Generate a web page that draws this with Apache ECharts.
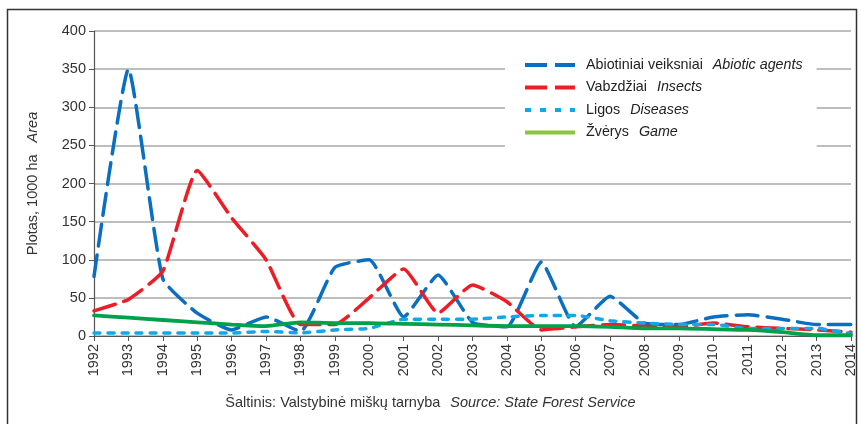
<!DOCTYPE html>
<html><head><meta charset="utf-8">
<script src="https://cdn.jsdelivr.net/npm/echarts@6/dist/echarts.min.js"></script>
<style>html,body{margin:0;padding:0;background:#fff}#c{width:861px;height:424px}</style>
</head><body><div id="c"></div>
<script>
const years = ['1992','1993','1994','1995','1996','1997','1998','1999','2000','2001','2002','2003','2004','2005','2006','2007','2008','2009','2010','2011','2012','2013','2014'];
const abiotic  = [78,350,75,30,8,25,6,90,100,25,80,18,12,97,12,52,17,15,25,28,22,15,15];
const insects  = [33,48,85,217,155,100,15,15,50,88,30,67,45,8,12,15,13,12,17,12,10,8,5];
const diseases = [4,4,4,4,4,6,4,8,10,22,22,22,25,27,27,20,17,15,15,10,10,10,3];
const game     = [27,24,21,18,15,13,18,17,17,16,15,14,13,13,13,12,10,10,9,8,5,1,1];
const yTicks = [0,50,100,150,200,250,300,350,400];
const names = ['Abiotiniai veiksniai', 'Vabzdžiai', 'Ligos', 'Žvėrys'];
const enNames = ['Abiotic agents', 'Insects', 'Diseases', 'Game'];

const chart = echarts.init(document.getElementById('c'));
const font = 'Liberation Sans, Arial, sans-serif';
const dashIcon = 'path://M0,0H22V4H0Z M30,0H50V4H30Z';
const dotIcon = 'path://M0,0H6V4H0Z M15,0H21V4H15Z M30,0H36V4H30Z M45,0H50V4H45Z';
const solidIcon = 'path://M0,0H50V4H0Z';
function mk(name, data, color, type, width) {
  return {
    name, type: 'line', data, symbol: 'none', smooth: 0.15,
    lineStyle: { color, width: width, type, cap: 'round' },
    itemStyle: { color }
  };
}
chart.setOption({
  animation: false,
  textStyle: { fontFamily: font },
  graphic: [
    { type: 'rect', shape: { x: 7.5, y: 9.5, width: 849, height: 430 }, style: { fill: 'none', stroke: '#333', lineWidth: 1.5 }, z: -1 },
    { type: 'text', left: 'center', top: 395,
      style: { rich: { n: { fontSize: 14.5, fontFamily: font, fill: '#333' }, i: { fontSize: 14.5, fontStyle: 'italic', fontFamily: font, fill: '#333' } },
        text: '{n|Šaltinis: Valstybinė miškų tarnyba}   {i|Source: State Forest Service}' } }
  ],
  legend: {
    orient: 'vertical', left: 505, top: 48, itemWidth: 50, itemHeight: 4, itemGap: 8.5,
    backgroundColor: '#fff', padding: [10, 14, 16, 20],
    data: [
      { name: names[0], icon: dashIcon },
      { name: names[1], icon: dashIcon },
      { name: names[2], icon: dotIcon },
      { name: names[3], icon: solidIcon, itemStyle: { color: '#8cc63f' } }
    ],
    formatter: function (n) { const i = names.indexOf(n); return '{n|' + n + '}   {i|' + enNames[i] + '}'; },
    textStyle: { padding: [0, 0, 0, 6], rich: { n: { fontSize: 14.3, color: '#222', fontFamily: font }, i: { fontSize: 14.3, fontStyle: 'italic', color: '#222', fontFamily: font } } }
  },
  grid: { left: 94, right: 10, top: 31, bottom: 88 },
  xAxis: {
    type: 'category', data: years, boundaryGap: false,
    axisLine: { lineStyle: { color: '#555', width: 1.2 } },
    axisTick: { show: true, length: 5, lineStyle: { color: '#555' } },
    axisLabel: { rotate: 90, fontSize: 14.5, color: '#333', margin: 8 }
  },
  yAxis: {
    type: 'value', min: 0, max: 400, interval: 50,
    name: 'Plotas, 1000 ha   {i|Area}', nameLocation: 'middle', nameGap: 54,
    nameTextStyle: { fontSize: 14.5, color: '#333', rich: { i: { fontSize: 14.5, fontStyle: 'italic', color: '#333' } } },
    axisLine: { show: true, lineStyle: { color: '#555', width: 1.2 } },
    axisTick: { show: true, length: 5, lineStyle: { color: '#555' } },
    axisLabel: { fontSize: 14.5, color: '#333', margin: 8 },
    splitLine: { lineStyle: { color: '#a8a8a8', width: 1.5 } }
  },
  series: [
    mk(names[0], abiotic, '#0a6fc0', [22, 9], 3.5),
    mk(names[1], insects, '#ee1c25', [22, 9], 3.5),
    mk(names[2], diseases, '#12a8e8', [6, 8], 3.5),
    mk(names[3], game, '#00a14b', 'solid', 3.8)
  ]
});
</script></body></html>
